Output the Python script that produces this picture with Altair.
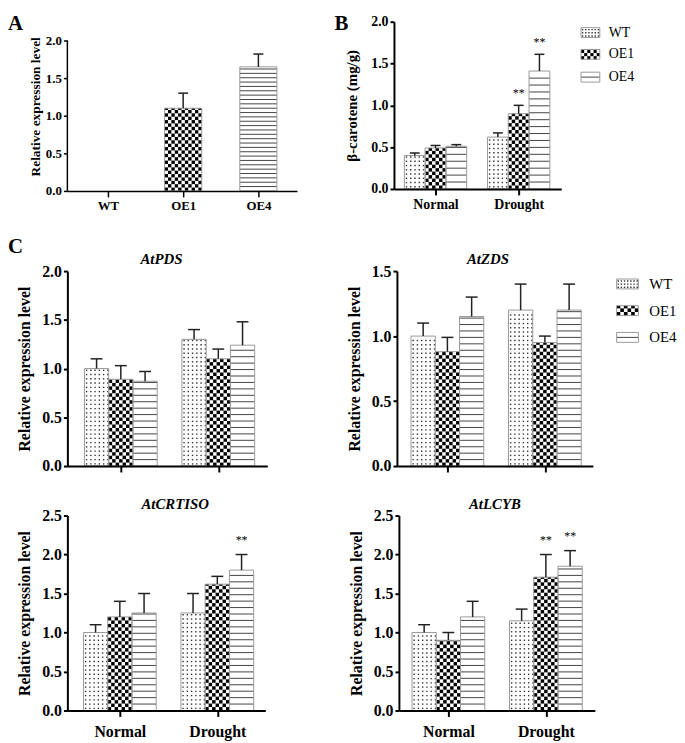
import altair as alt
import numpy as np
import pandas as pd

FONT = "Liberation Serif"

GENOTYPES = ["WT", "OE1", "OE4"]
CONDITIONS = ["Normal", "Drought"]

# Panel A: relative expression level of the transgene
A_MEAN = [0.0, 1.10, 1.65]
A_SD = [0.0, 0.20, 0.17]

# Panel B: beta-carotene content (mg/g)
B_MEAN_NORMAL = [0.40, 0.49, 0.51]
B_SD_NORMAL = [0.03, 0.03, 0.02]
B_MEAN_DROUGHT = [0.62, 0.90, 1.41]
B_SD_DROUGHT = [0.05, 0.10, 0.20]
B_SIG_DROUGHT = ["", "**", "**"]

# Panel C: relative expression of carotenoid genes
PDS_MEAN_NORMAL = [1.00, 0.89, 0.87]
PDS_SD_NORMAL = [0.10, 0.14, 0.10]
PDS_MEAN_DROUGHT = [1.30, 1.10, 1.24]
PDS_SD_DROUGHT = [0.10, 0.10, 0.24]

ZDS_MEAN_NORMAL = [1.00, 0.88, 1.15]
ZDS_SD_NORMAL = [0.10, 0.11, 0.15]
ZDS_MEAN_DROUGHT = [1.20, 0.95, 1.20]
ZDS_SD_DROUGHT = [0.20, 0.05, 0.20]

CRTISO_MEAN_NORMAL = [1.00, 1.20, 1.25]
CRTISO_SD_NORMAL = [0.10, 0.20, 0.25]
CRTISO_MEAN_DROUGHT = [1.25, 1.62, 1.80]
CRTISO_SD_DROUGHT = [0.25, 0.10, 0.20]
CRTISO_SIG_DROUGHT = ["", "", "**"]

LCYB_MEAN_NORMAL = [1.00, 0.90, 1.20]
LCYB_SD_NORMAL = [0.10, 0.10, 0.20]
LCYB_MEAN_DROUGHT = [1.15, 1.71, 1.85]
LCYB_SD_DROUGHT = [0.15, 0.29, 0.20]
LCYB_SIG_DROUGHT = ["", "**", "**"]

NO_SIG = ["", "", ""]

TICKS_2 = [0.0, 0.5, 1.0, 1.5, 2.0]
TICKS_15 = [0.0, 0.5, 1.0, 1.5]
TICKS_25 = [0.0, 0.5, 1.0, 1.5, 2.0, 2.5]


def ternary(labels):
    expr = "''"
    for i in range(len(labels) - 1, -1, -1):
        expr = f"datum.value == {i} ? '{labels[i]}' : {expr}"
    return expr


def add_pattern(kind, x1, y0, wpx, hpx, ux, uy, cfg, dots, checks, lines):
    if kind == "WT":
        s = cfg["dot_px"]
        for a in np.arange(s / 2, wpx - 0.8, s):
            for b in np.arange(s / 2, hpx - 0.8, s):
                dots.append(dict(x=x1 + a / ux, y=y0 + b / uy))
    elif kind == "OE1":
        n = max(2, int(round(wpx / cfg["check_px"])))
        c = wpx / n
        m = int(np.ceil(hpx / c - 0.05))
        for i in range(n):
            for j in range(m):
                if (i + j) % 2 == 0:
                    ya = j * c
                    yb = min((j + 1) * c, hpx)
                    if yb > ya:
                        checks.append(dict(x=x1 + i * c / ux, x2=x1 + (i + 1) * c / ux,
                                           y=y0 + ya / uy, y2=y0 + yb / uy))
    else:
        s = cfg["line_px"]
        for b in np.arange(s, hpx - 0.8, s):
            lines.append(dict(x=x1, x2=x1 + wpx / ux, y=y0 + b / uy))


def panel(cfg, groups, genos, means, sds, sigs, ytitle, yticks,
          gene=None, letter=None, legend=None):
    W, H = cfg["width"], cfg["height"]
    ux = cfg["ux"]
    xmin = cfg["xmin"]
    xmax = xmin + W / ux
    ymax = cfg["ymax"]
    uy = H / ymax
    bw = cfg["bar_px"] / ux

    boxes, dots, checks, lines, errs, stars = [], [], [], [], [], []
    for gi in range(len(groups)):
        nb = len(genos[gi])
        for bi in range(nb):
            xc = gi + (bi - (nb - 1) / 2) * bw
            x1 = xc - bw / 2
            m = means[gi][bi]
            s = sds[gi][bi]
            if m > 0:
                boxes.append(dict(x=x1, x2=x1 + bw, y=0.0, y2=m))
                add_pattern(genos[gi][bi], x1, 0.0, cfg["bar_px"], m * uy, ux, uy,
                            cfg, dots, checks, lines)
            if s > 0:
                errs.append(dict(x=xc, y=m, y2=m + s,
                                 c1=xc - cfg["cap_px"] / 2 / ux,
                                 c2=xc + cfg["cap_px"] / 2 / ux))
            if sigs[gi][bi]:
                stars.append(dict(x=xc, y=m + s, t=sigs[gi][bi]))

    legtexts = []
    if legend:
        for i, g in enumerate(GENOTYPES):
            cy = legend["rows"][i]
            lx1 = xmin + legend["x"] / ux
            lyb = ymax - (cy + legend["h"] / 2) / uy
            boxes.append(dict(x=lx1, x2=lx1 + legend["w"] / ux, y=lyb,
                              y2=lyb + legend["h"] / uy))
            lcfg = dict(cfg)
            lcfg["line_px"] = legend["h"] / 2
            lcfg["dot_px"] = legend["dot_px"]
            add_pattern(g, lx1, lyb, legend["w"], legend["h"], ux, uy, lcfg,
                        dots, checks, lines)
            legtexts.append(dict(x=xmin + legend["tx"] / ux, y=ymax - cy / uy, t=g))

    xscale = alt.Scale(domain=[xmin, xmax], nice=False, zero=False)
    yscale = alt.Scale(domain=[0, ymax], nice=False, zero=False)
    xaxis = alt.Axis(values=list(range(len(groups))), labelExpr=ternary(groups),
                     labels=cfg["xlabels"],
                     title=None, labelFont=FONT, labelFontWeight="bold",
                     labelFontSize=cfg["xlab_fs"], labelColor="black",
                     labelPadding=cfg["xlab_pad"], labelAngle=0,
                     domainColor="black", domainWidth=cfg["axis_w"],
                     tickColor="black", tickWidth=cfg["axis_w"],
                     tickSize=cfg["xtick"], grid=False, zindex=1)
    yaxis = alt.Axis(values=yticks, format=".1f", title=ytitle, titleFont=FONT,
                     titleFontWeight="bold", titleFontSize=cfg["ytitle_fs"],
                     titleColor="black", titleX=cfg["ytitle_x"], titleY=H / 2,
                     titleAngle=270, titleBaseline="bottom", titleAlign="center",
                     labelFont=FONT, labelFontWeight="bold",
                     labelFontSize=cfg["ylab_fs"], labelColor="black",
                     labelPadding=2, domain=cfg["ydomain"], domainColor="black",
                     domainWidth=cfg["axis_w"], tickColor="black",
                     tickWidth=cfg["axis_w"], tickSize=cfg["ytick"], grid=False,
                     zindex=1)

    def X(f):
        return alt.X(f, type="quantitative", scale=xscale, axis=xaxis)

    def Y(f):
        return alt.Y(f, type="quantitative", scale=yscale, axis=yaxis)

    layers = []
    dfb = pd.DataFrame(boxes)
    layers.append(alt.Chart(dfb).mark_rect(fill="white", strokeOpacity=0)
                  .encode(x=X("x"), x2="x2", y=Y("y"), y2="y2"))
    if dots:
        layers.append(alt.Chart(pd.DataFrame(dots))
                      .mark_square(size=cfg["dot_size"], color="#333333", opacity=1)
                      .encode(x=X("x"), y=Y("y")))
    if checks:
        layers.append(alt.Chart(pd.DataFrame(checks))
                      .mark_rect(color="black", strokeOpacity=0)
                      .encode(x=X("x"), x2="x2", y=Y("y"), y2="y2"))
    if lines:
        layers.append(alt.Chart(pd.DataFrame(lines))
                      .mark_rule(color="#444444", strokeWidth=1)
                      .encode(x=X("x"), x2="x2", y=Y("y")))
    layers.append(alt.Chart(dfb).mark_rect(fillOpacity=0, stroke="#999999", strokeWidth=1)
                  .encode(x=X("x"), x2="x2", y=Y("y"), y2="y2"))
    if errs:
        dfe = pd.DataFrame(errs)
        layers.append(alt.Chart(dfe).mark_rule(color="#222222", strokeWidth=cfg["err_w"])
                      .encode(x=X("x"), y=Y("y"), y2="y2"))
        layers.append(alt.Chart(dfe).mark_rule(color="#222222", strokeWidth=cfg["err_w"])
                      .encode(x=X("c1"), x2="c2", y=Y("y2")))
    if stars:
        layers.append(alt.Chart(pd.DataFrame(stars))
                      .mark_text(font=FONT, fontSize=12, baseline="alphabetic",
                                 dy=cfg["star_dy"], color="black")
                      .encode(x=X("x"), y=Y("y"), text="t:N"))
    if not cfg["ydomain"]:
        dfd = pd.DataFrame([dict(x=xmin, y=0.0, y2=max(yticks))])
        layers.append(alt.Chart(dfd).mark_rule(color="black", strokeWidth=cfg["axis_w"])
                      .encode(x=X("x"), y=Y("y"), y2="y2"))
    if legtexts:
        layers.append(alt.Chart(pd.DataFrame(legtexts))
                      .mark_text(font=FONT, fontSize=legend["fs"], baseline="middle",
                                 align="left", color="black")
                      .encode(x=X("x"), y=Y("y"), text="t:N"))
    if gene:
        dfg = pd.DataFrame([dict(x=xmin + cfg["gene_px"] / ux, y=ymax + 7 / uy, t=gene)])
        layers.append(alt.Chart(dfg)
                      .mark_text(font=FONT, fontSize=15, fontStyle="italic",
                                 fontWeight="bold", baseline="alphabetic",
                                 align="center", color="black")
                      .encode(x=X("x"), y=Y("y"), text="t:N"))
    if letter:
        # letter[1]: pixels above the top of the plot area
        dfl = pd.DataFrame([dict(x=xmin - 60 / ux, y=ymax + letter[1] / uy, t=letter[0])])
        layers.append(alt.Chart(dfl)
                      .mark_text(font=FONT, fontSize=21, fontWeight="bold",
                                 baseline="top", align="left", color="black")
                      .encode(x=X("x"), y=Y("y"), text="t:N"))
    return alt.layer(*layers).properties(width=W, height=H)


BASE = dict(check_px=3.4, dot_px=4.3, line_px=6.5, dot_size=2.0, err_w=1.5,
            axis_w=2, ytick=4, xtick=6, xlab_pad=3, star_dy=-11, ydomain=True,
            cap_px=12, xlabels=True)

cfgA = dict(BASE, width=232, height=171, ux=76.0, xmin=-41 / 76, ymax=2.25,
            bar_px=37.5, cap_px=10, line_px=4.4, axis_w=1.5, ylab_fs=13,
            xlab_fs=13, ytitle_fs=13.5, ytitle_x=-25, ydomain=False)
cfgB = dict(BASE, width=169, height=169, ux=84.0, xmin=-0.5, ymax=2.0,
            bar_px=21, cap_px=10, line_px=7, ylab_fs=14, xlab_fs=14,
            ytitle_fs=15, ytitle_x=-35, star_dy=-8)
cfgC = dict(BASE, height=197, ux=98.5, bar_px=24.5, ylab_fs=16, xlab_fs=16,
            ytitle_fs=16, ytitle_x=-35, xlab_pad=7)
cfgPDS = dict(cfgC, width=202, xmin=-54 / 98.5, ymax=2.0, gene_px=95, xlabels=False)
cfgZDS = dict(cfgC, width=198, xmin=-51 / 98.5, ymax=1.5, gene_px=92, xlabels=False)
cfgCRT = dict(cfgC, width=200, xmin=-53 / 98.5, ymax=2.5, gene_px=109)
cfgLCY = dict(cfgC, width=198, xmin=-50 / 98.5, ymax=2.5, gene_px=97)

REL = "Relative expression level"

pA = panel(cfgA, GENOTYPES, [["WT"], ["OE1"], ["OE4"]],
           [[v] for v in A_MEAN], [[v] for v in A_SD], [[""], [""], [""]],
           REL, TICKS_2, letter=("A", 9))
pB = panel(cfgB, CONDITIONS, [GENOTYPES, GENOTYPES],
           [B_MEAN_NORMAL, B_MEAN_DROUGHT], [B_SD_NORMAL, B_SD_DROUGHT],
           [NO_SIG, B_SIG_DROUGHT], "β-carotene (mg/g)", TICKS_2,
           letter=("B", 9),
           legend=dict(x=189, w=19, h=10, tx=217, rows=[11, 33, 56], fs=14, dot_px=3.2))
pPDS = panel(cfgPDS, CONDITIONS, [GENOTYPES, GENOTYPES],
             [PDS_MEAN_NORMAL, PDS_MEAN_DROUGHT], [PDS_SD_NORMAL, PDS_SD_DROUGHT],
             [NO_SIG, NO_SIG], REL, TICKS_2, gene="AtPDS", letter=("C", 35))
pZDS = panel(cfgZDS, CONDITIONS, [GENOTYPES, GENOTYPES],
             [ZDS_MEAN_NORMAL, ZDS_MEAN_DROUGHT], [ZDS_SD_NORMAL, ZDS_SD_DROUGHT],
             [NO_SIG, NO_SIG], REL, TICKS_15, gene="AtZDS",
             legend=dict(x=222, w=22, h=10, tx=255, rows=[13, 40, 67], fs=15, dot_px=3.2))
pCRT = panel(cfgCRT, CONDITIONS, [GENOTYPES, GENOTYPES],
             [CRTISO_MEAN_NORMAL, CRTISO_MEAN_DROUGHT],
             [CRTISO_SD_NORMAL, CRTISO_SD_DROUGHT],
             [NO_SIG, CRTISO_SIG_DROUGHT], REL, TICKS_25, gene="AtCRTISO")
pLCY = panel(cfgLCY, CONDITIONS, [GENOTYPES, GENOTYPES],
             [LCYB_MEAN_NORMAL, LCYB_MEAN_DROUGHT],
             [LCYB_SD_NORMAL, LCYB_SD_DROUGHT],
             [NO_SIG, LCYB_SIG_DROUGHT], REL, TICKS_25, gene="AtLCYB")

row1 = alt.hconcat(pA, pB, spacing=98, bounds="flush")
row2 = alt.hconcat(pPDS, pZDS, spacing=131, bounds="flush")
row3 = alt.hconcat(pCRT, pLCY, spacing=135, bounds="flush")

lower = alt.vconcat(row2, row3, spacing=23)
chart = (alt.vconcat(row1, lower, spacing=24)
         .properties(padding=0)
         .configure_view(stroke=None))

chart.save("out.html", embed_options={"renderer": "svg", "actions": False})
